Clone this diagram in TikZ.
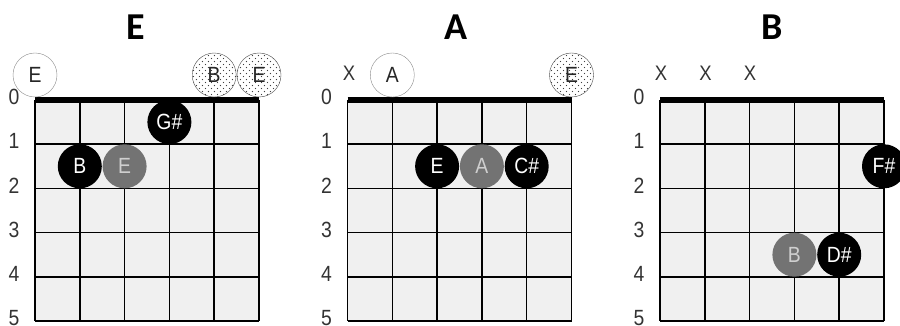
\documentclass[tikz,border=0pt]{standalone}
\usepackage{fontspec}
\setmainfont{Liberation Sans}
\newfontfamily\titlefont{Carlito}
\newfontfamily\labelfont[FakeStretch=0.88]{Liberation Sans}
\usetikzlibrary{patterns.meta}
\definecolor{Cell}{HTML}{F0F0F0}
\definecolor{Root}{HTML}{737373}
\definecolor{RootText}{HTML}{CFCFCF}
\definecolor{Ring}{HTML}{8C8C8C}
\tikzdeclarepattern{
  name=bassdots,
  type=uncolored,
  bounding box={(0pt,0pt) and (6.4pt,6.4pt)},
  tile size={(6.4pt,6.4pt)},
  code={\pgfpathcircle{\pgfpoint{1.6pt}{1.6pt}}{0.7pt}
        \pgfpathcircle{\pgfpoint{4.8pt}{4.8pt}}{0.7pt}
        \pgfusepath{fill}}
}

\begin{document}
\begin{tikzpicture}[x=1pt,y=-1pt,
  chordname/.style={font=\titlefont\bfseries\fontsize{38}{38}\selectfont,inner sep=0pt},
  fretnum/.style={font=\labelfont\fontsize{22}{22}\selectfont,text=black!80,inner sep=0pt},
  mutemark/.style={font=\labelfont\fontsize{21}{21}\selectfont,text=black!80,inner sep=0pt},
  fingered/.style={circle,minimum size=44pt,inner sep=0pt,fill=black,text=white,font=\labelfont\fontsize{22}{22}\selectfont},
  rootdot/.style={fingered,fill=Root,text=RootText},
  openring/.style={circle,minimum size=44pt,inner sep=0pt,draw=Ring,fill=white,text=black!85,font=\labelfont\fontsize{22}{22}\selectfont},
  opendots/.style={openring,draw=black!70,preaction={fill=white},pattern={bassdots},pattern color=black!75},
  nut/.style={line width=6pt},
  fretline/.style={line width=1.5pt}
]
\useasboundingbox (0,0) rectangle (900,326);

% fretboards
\foreach \ox/\d in {35/e,347.5/a,660/b}{
  \fill[Cell] (\ox,100) rectangle ++(224,221);
  \foreach \i in {1,...,5} \draw[fretline] (\ox,100+\i*44.2) -- ++(224,0);
  \foreach \i in {0,...,5} \draw[fretline] (\ox+\i*44.8,100) -- ++(0,221);
  \foreach \i in {0,...,5} \node[fretnum] (\d num\i) at (\ox-21,97+\i*44.2) {\i};
}

% chord names
\node[chordname] (ename) at (136,27) {E};
\node[chordname] (aname) at (456,27) {A};
\node[chordname] (bname) at (772,27) {B};

% E
\node[fingered] (egs) at (169.4,122.1) {G\#};
\node[fingered] (eb) at (79.8,166.3) {B};
\node[rootdot] (ee) at (124.6,166.3) {E};

% A
\node[fingered] (ae) at (437.1,166.3) {E};
\node[rootdot] (aa) at (481.9,166.3) {A};
\node[fingered] (acs) at (526.7,166.3) {C\#};

% B
\node[fingered] (bfs) at (884,166.3) {F\#};
\node[rootdot] (bb) at (794.4,254.7) {B};
\node[fingered] (bds) at (839.2,254.7) {D\#};

% nuts
\draw[nut] (35,100) -- (259,100);
\draw[nut] (347.5,100) -- (571.5,100);
\draw[nut] (660,100) -- (884,100);

% open and muted strings
\node[openring] (eopen) at (35,75) {E};
\node[opendots] (ebass) at (214.2,75) {B};
\node[opendots] (ehigh) at (259,75) {E};
\node[mutemark] (amute) at (349,73) {X};
\node[openring] (aopen) at (392.3,75) {A};
\node[opendots] (ahigh) at (571.5,75) {E};
\node[mutemark] (bmute1) at (661,73) {X};
\node[mutemark] (bmute2) at (705.5,73) {X};
\node[mutemark] (bmute3) at (750,73) {X};
\end{tikzpicture}
\end{document}
